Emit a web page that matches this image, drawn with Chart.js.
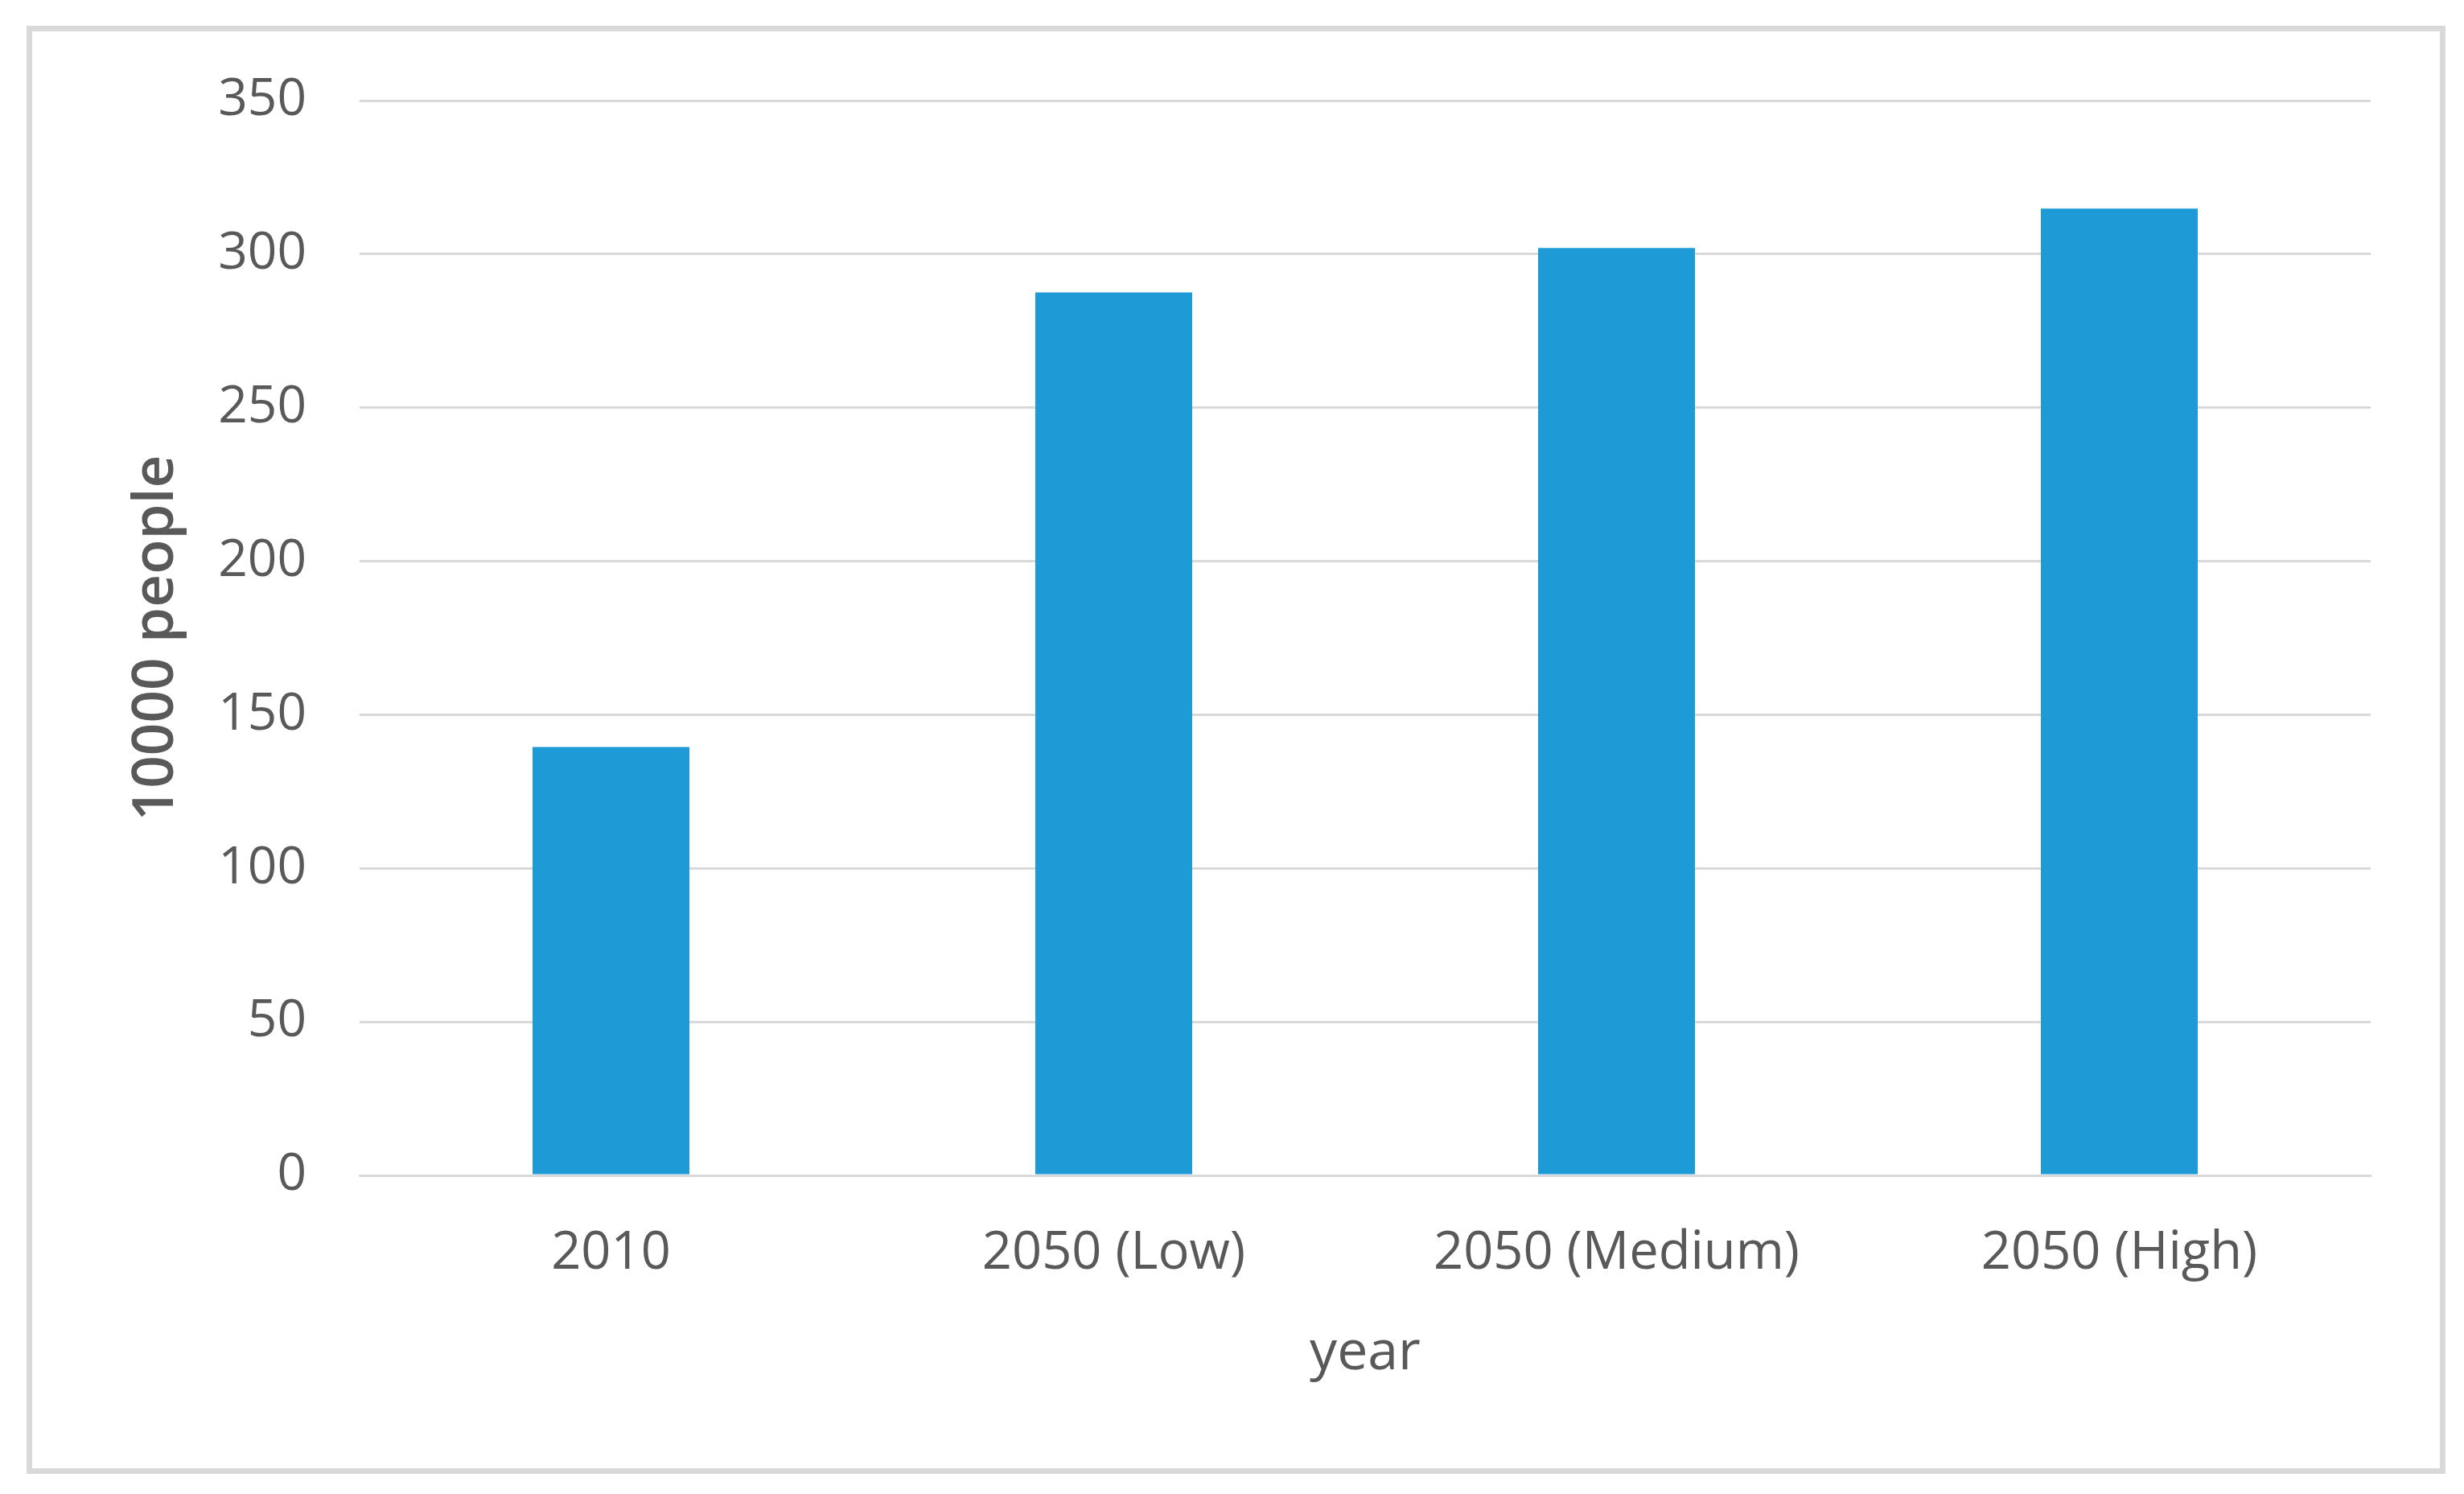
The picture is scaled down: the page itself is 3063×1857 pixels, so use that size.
<!DOCTYPE html>
<html>
<head>
<meta charset="utf-8">
<script src="https://cdn.jsdelivr.net/npm/chart.js@4.4.0/dist/chart.umd.min.js"></script>
<style>
  html, body { margin: 0; padding: 0; background: #fff; }
  #frame {
    position: absolute; left: 33px; top: 32px;
    width: 2993px; height: 1786px;
    border: 7px solid #d9d9d9; background: #fff;
  }
  #wrap { position: absolute; left: 0; top: 0; width: 3063px; height: 1857px; }
</style>
</head>
<body>
<div id="frame"></div>
<div id="wrap"><canvas id="chart"></canvas></div>
<script>
  // values
  var categories = ['2010', '2050 (Low)', '2050 (Medium)', '2050 (High)'];
  var population = [139.5, 287.5, 302, 314.8];
  var yTicks = [0, 50, 100, 150, 200, 250, 300, 350];

  var textColor = '#595959';
  var gridColor = '#d9d9d9';
  var barColor = '#1e9bd7';

  var ctx = document.getElementById('chart').getContext('2d');
  new Chart(ctx, {
    type: 'bar',
    data: {
      labels: categories,
      datasets: [{
        data: population,
        backgroundColor: barColor,
        borderWidth: 0,
        barPercentage: 1,
        categoryPercentage: 0.312
      }]
    },
    options: {
      responsive: true,
      maintainAspectRatio: false,
      animation: false,
      devicePixelRatio: 1,
      layout: { padding: { left: 0, right: 116, top: 125, bottom: 0 } },
      plugins: { legend: { display: false }, tooltip: { enabled: false } },
      scales: {
        x: {
          grid: { display: false, drawTicks: false },
          border: { display: true, color: gridColor, width: 3 },
          ticks: {
            color: textColor,
            padding: 58,
            font: { family: 'Open Sans', size: 65 }
          },
          title: {
            display: true,
            text: 'year',
            color: textColor,
            font: { family: 'Open Sans', size: 68 },
            padding: { bottom: 134 }
          },
          afterFit: function(scale) { scale.height = 396; }
        },
        y: {
          min: 0,
          max: 350,
          afterBuildTicks: function(scale) {
            scale.ticks = yTicks.map(function(v) { return { value: v }; });
          },
          grid: { color: gridColor, lineWidth: 3, drawTicks: false },
          border: { display: false },
          ticks: {
            color: textColor,
            padding: 66,
            font: { family: 'Open Sans', size: 64 }
          },
          title: {
            display: true,
            text: '10000 people',
            color: textColor,
            font: { family: 'Open Sans', size: 71, weight: '600' },
            padding: { top: 152 }
          },
          afterFit: function(scale) { scale.width = 447; }
        }
      }
    }
  });
</script>
</body>
</html>
